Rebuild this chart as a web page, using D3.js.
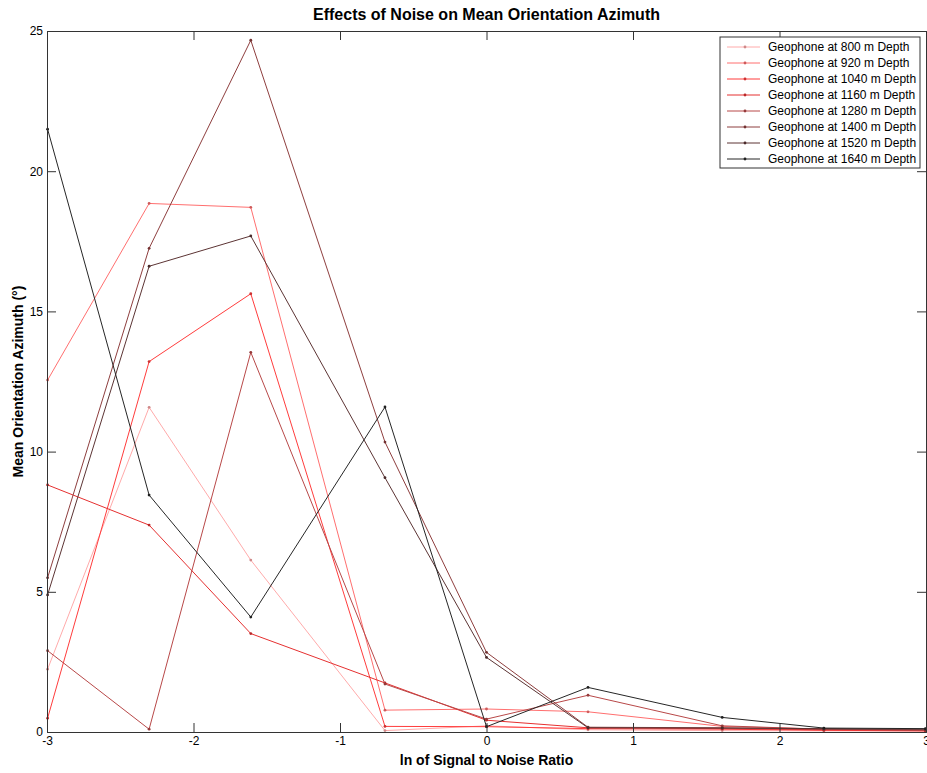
<!DOCTYPE html>
<html>
<head>
<meta charset="utf-8">
<script src="https://cdn.jsdelivr.net/npm/d3@7/dist/d3.min.js"></script>
<style>
  html, body { margin: 0; padding: 0; background: #fff; }
  svg { display: block; font-family: "Liberation Sans", Arial, sans-serif; }
</style>
</head>
<body>
<svg id="chart" width="927" height="773"></svg>
<script>
// ln(SNR) sample positions: SNR = 0.05, 0.1, 0.2, 0.5, 1, 2, 5, 10, 20
const lnSNR = [-2.996, -2.303, -1.609, -0.693, 0, 0.693, 1.609, 2.303, 2.996];

const depths = ["800", "920", "1040", "1160", "1280", "1400", "1520", "1640"];

// Mean orientation azimuth error (degrees) per geophone depth
const az800  = [2.24, 11.58, 6.13, 0.05, 0.22, 0.08, 0.05, 0.04, 0.03];
const az920  = [12.55, 18.85, 18.71, 0.78, 0.82, 0.72, 0.20, 0.10, 0.05];
const az1040 = [0.49, 13.21, 15.63, 0.20, 0.19, 0.12, 0.10, 0.06, 0.04];
const az1160 = [8.81, 7.38, 3.51, 1.75, 0.42, 0.15, 0.12, 0.08, 0.05];
const az1280 = [2.90, 0.10, 13.54, 1.71, 0.46, 1.31, 0.22, 0.10, 0.06];
const az1400 = [5.50, 17.25, 24.67, 10.34, 2.84, 0.17, 0.15, 0.10, 0.08];
const az1520 = [4.89, 16.61, 17.69, 9.07, 2.66, 0.15, 0.14, 0.12, 0.10];
const az1640 = [21.50, 8.45, 4.10, 11.59, 0.19, 1.59, 0.52, 0.14, 0.12];

const seriesValues = [az800, az920, az1040, az1160, az1280, az1400, az1520, az1640];

const xTicks = [-3, -2, -1, 0, 1, 2, 3];
const yTicks = [0, 5, 10, 15, 20, 25];

// Colour ramp from light pink down to near-black
const colors = ["#ffaaaa", "#ff6f6f", "#ff3c3c", "#e53030", "#b84848", "#8e3e3e", "#5c3434", "#262626"];

const svg = d3.select("#chart");
const plotLeft = 47, plotRight = 926, plotTop = 31, plotBottom = 732;

const x = d3.scaleLinear().domain([-3, 3]).range([plotLeft, plotRight]);
const y = d3.scaleLinear().domain([0, 25]).range([plotBottom, plotTop]);

// Series lines with small dot markers
const line = d3.line().x((d, i) => x(lnSNR[i])).y(d => y(d));
const plot = svg.append("g");
seriesValues.forEach((vals, k) => {
  plot.append("path")
    .attr("d", line(vals))
    .attr("fill", "none")
    .attr("stroke", colors[k])
    .attr("stroke-width", 1);
  plot.selectAll(null).data(vals).enter().append("circle")
    .attr("cx", (d, i) => x(lnSNR[i]))
    .attr("cy", d => y(d))
    .attr("r", 1.4)
    .attr("fill", d3.color(colors[k]).darker(0.6));
});

// Axes with inward ticks on all four sides; plain hyphen for negatives
const tickLen = 9;
const axisColor = "#333";
const fmt = d => String(d);
const axB = svg.append("g").attr("transform", `translate(0,${plotBottom})`)
  .call(d3.axisBottom(x).tickValues(xTicks).tickSize(-tickLen).tickPadding(4).tickFormat(fmt));
const axT = svg.append("g").attr("transform", `translate(0,${plotTop})`)
  .call(d3.axisTop(x).tickValues(xTicks).tickSize(-tickLen).tickFormat(""));
const axL = svg.append("g").attr("transform", `translate(${plotLeft},0)`)
  .call(d3.axisLeft(y).tickValues(yTicks).tickSize(-tickLen).tickPadding(4).tickFormat(fmt));
const axR = svg.append("g").attr("transform", `translate(${plotRight},0)`)
  .call(d3.axisRight(y).tickValues(yTicks).tickSize(-tickLen).tickFormat(""));
[axB, axT, axL, axR].forEach(g => {
  g.select(".domain").attr("stroke", axisColor).attr("stroke-width", 1);
  g.selectAll(".tick line").attr("stroke", axisColor);
  g.selectAll(".tick text").attr("fill", "#000").style("font-size", "12px")
    .style("font-family", "'Liberation Sans', Arial, sans-serif");
});

// Title and axis labels
svg.append("text").attr("x", (plotLeft + plotRight) / 2).attr("y", 20)
  .attr("text-anchor", "middle").style("font-size", "16px").style("font-weight", "bold")
  .text("Effects of Noise on Mean Orientation Azimuth");
svg.append("text").attr("x", (plotLeft + plotRight) / 2).attr("y", 765)
  .attr("text-anchor", "middle").style("font-size", "14px").style("font-weight", "bold")
  .text("ln of Signal to Noise Ratio");
svg.append("text").attr("transform", `translate(23,${(plotTop + plotBottom) / 2}) rotate(-90)`)
  .attr("text-anchor", "middle").style("font-size", "14px").style("font-weight", "bold")
  .text("Mean Orientation Azimuth (°)");

// Legend
const lg = svg.append("g").attr("transform", "translate(720,37)");
lg.append("rect").attr("x", 0).attr("y", 0).attr("width", 200).attr("height", 131)
  .attr("fill", "#fff").attr("stroke", axisColor).attr("stroke-width", 1);
depths.forEach((dep, k) => {
  const yy = 10 + k * 16;
  lg.append("line").attr("x1", 7).attr("x2", 40).attr("y1", yy).attr("y2", yy)
    .attr("stroke", colors[k]).attr("stroke-width", 1);
  lg.append("circle").attr("cx", 25).attr("cy", yy).attr("r", 1.4)
    .attr("fill", d3.color(colors[k]).darker(0.6));
  lg.append("text").attr("x", 48).attr("y", yy + 4).style("font-size", "12px")
    .text(`Geophone at ${dep} m Depth`);
});
</script>
</body>
</html>
